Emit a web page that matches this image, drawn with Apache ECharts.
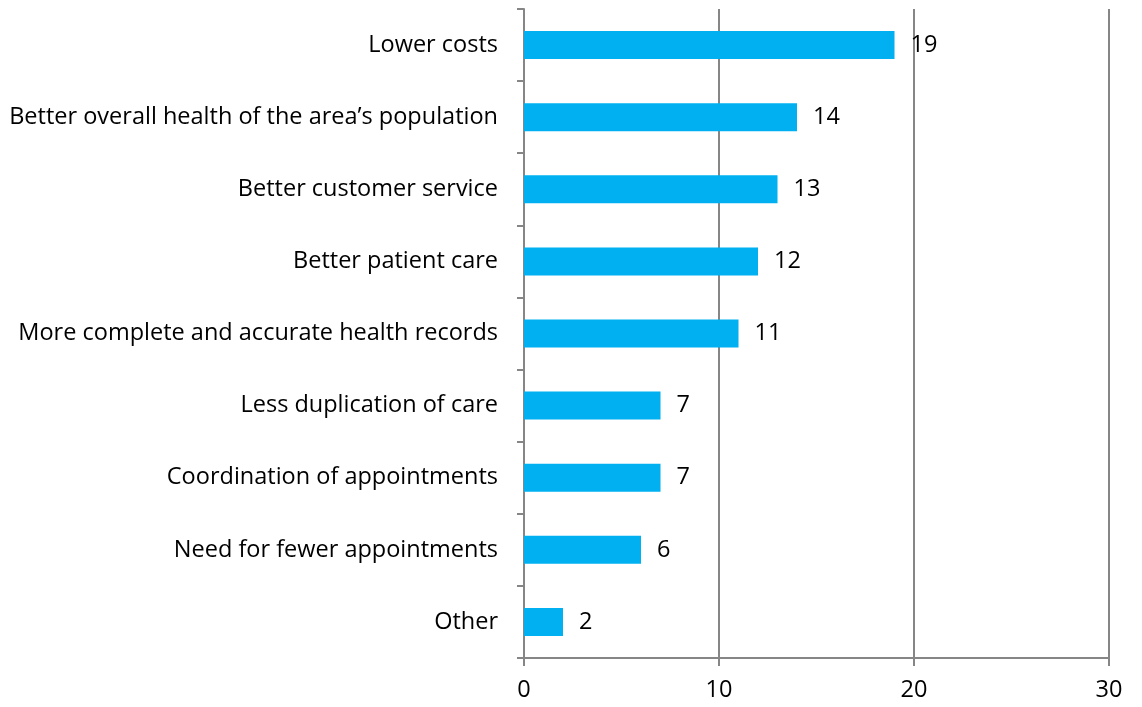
<!DOCTYPE html>
<html><head><meta charset="utf-8">
<script src="https://cdn.jsdelivr.net/npm/echarts@6/dist/echarts.min.js"></script>
<style>html,body{margin:0;padding:0;background:#fff}#c{width:1142px;height:707px}</style>
</head><body><div id="c"></div>
<script>
const categories = ["Lower costs","Better overall health of the area\u2019s population","Better customer service","Better patient care","More complete and accurate health records","Less duplication of care","Coordination of appointments","Need for fewer appointments","Other"];
const values = [19,14,13,12,11,7,7,6,2];
const xTicks = [0,10,20,30];
const FONT = "Open Sans";
const FS = 23.5;
const chart = echarts.init(document.getElementById('c'));
chart.setOption({
  animation:false,
  grid:{left:524,right:33,top:9,bottom:49,containLabel:false},
  xAxis:{type:'value',min:xTicks[0],max:xTicks[xTicks.length-1],interval:10,
    axisLine:{show:true,lineStyle:{color:'#868686',width:2}},
    axisTick:{show:true,length:8,lineStyle:{color:'#868686',width:2}},
    axisLabel:{margin:20,color:'#000',fontFamily:FONT,fontSize:FS},
    splitLine:{show:true,lineStyle:{color:'#868686',width:2}}},
  yAxis:{type:'category',data:categories,inverse:true,
    axisLine:{show:true,lineStyle:{color:'#868686',width:2}},
    axisTick:{show:true,length:7,lineStyle:{color:'#868686',width:2}},
    axisLabel:{margin:26,color:'#000',fontFamily:FONT,fontSize:FS,padding:[4,0,0,0]},
    splitLine:{show:false}},
  series:[{type:'bar',data:values,barWidth:28,itemStyle:{color:'#00B0F0'},
    label:{show:true,position:'right',distance:16,color:'#000',fontFamily:FONT,fontSize:FS,padding:[4,0,0,0]}}]
});
</script></body></html>
